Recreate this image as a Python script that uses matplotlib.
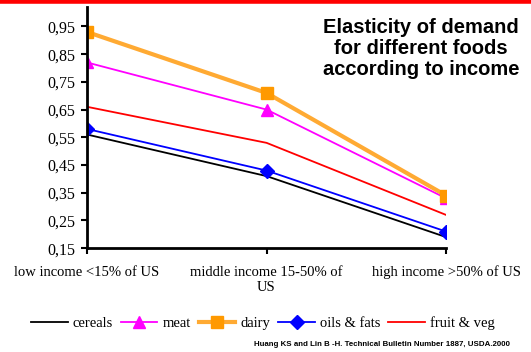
import numpy as np
import matplotlib.pyplot as plt
from matplotlib.lines import Line2D

# Income groups and elasticity values per food group
categorias = ['low income <15% of US', 'middle income 15-50% of\nUS', 'high income >50% of US']
cereals = [0.56, 0.41, 0.19]
meat = [0.82, 0.65, 0.33]
dairy = [0.93, 0.71, 0.34]
oils_fats = [0.58, 0.43, 0.21]
fruit_veg = [0.66, 0.53, 0.27]

y_ticks = [0.15, 0.25, 0.35, 0.45, 0.55, 0.65, 0.75, 0.85, 0.95]
y_labels = ['0,15', '0,25', '0,35', '0,45', '0,55', '0,65', '0,75', '0,85', '0,95']

serif = 'Liberation Serif'
sans = 'Liberation Sans'

fig = plt.figure(figsize=(5.31, 3.52), dpi=100)
ax = fig.add_axes([0.164, 0.295, 0.676, 0.685])

x = np.arange(len(categorias))

ax.plot(x, cereals, color='black', lw=1.3, label='cereals')
ax.plot(x, meat, color='#FF00FF', lw=1.3, marker='^', ms=8,
        mec='#FF00FF', mfc='#FF00FF', label='meat')
ax.plot(x, dairy, color='#FFAA33', lw=3, marker='s', ms=8,
        mec='#FF9900', mfc='#FF9900', label='dairy')
ax.plot(x, oils_fats, color='#0000FF', lw=1.3, marker='D', ms=7,
        mec='#0000FF', mfc='#0000FF', label='oils & fats')
ax.plot(x, fruit_veg, color='#FF0000', lw=1.3, label='fruit & veg')

ax.set_xlim(0, 2)
ax.set_ylim(0.15, 1.02)
ax.set_yticks(y_ticks)
ax.set_yticklabels(y_labels, family=serif, fontsize=11.5)
ax.set_xticks(x)
ax.set_xticklabels(categorias, family=serif, fontsize=10.5, linespacing=1.25)
ax.tick_params(axis='x', length=4.5, width=1.5, pad=8)
ax.tick_params(axis='y', length=4.5, width=1.5, pad=4)

for s in ['top', 'right']:
    ax.spines[s].set_visible(False)
for s in ['left', 'bottom']:
    ax.spines[s].set_linewidth(2)

# Legend along the bottom
handles, labels = ax.get_legend_handles_labels()
fig.legend(handles, labels, loc='center', bbox_to_anchor=(0.495, 0.082), ncol=5,
           frameon=False, prop={'family': serif, 'size': 10.5},
           handlelength=2.5, handletextpad=0.35, columnspacing=0.55,
           borderaxespad=0, borderpad=0)

# Title block at top right
fig.text(0.793, 0.948, 'Elasticity of demand\nfor different foods\naccording to income',
         ha='center', va='top', family=sans, fontweight='bold', fontsize=14.5,
         linespacing=1.12)

# Source note
fig.text(0.961, 0.021, 'Huang KS and Lin B -H. Technical Bulletin Number 1887, USDA.2000',
         ha='right', va='center', family=sans, fontweight='bold', fontsize=5.7)

# Red band across the top edge
fig.add_artist(Line2D([0, 1], [0.996, 0.996], transform=fig.transFigure,
                      color='#FF0000', lw=4))

fig.savefig('out.png', dpi=100)
